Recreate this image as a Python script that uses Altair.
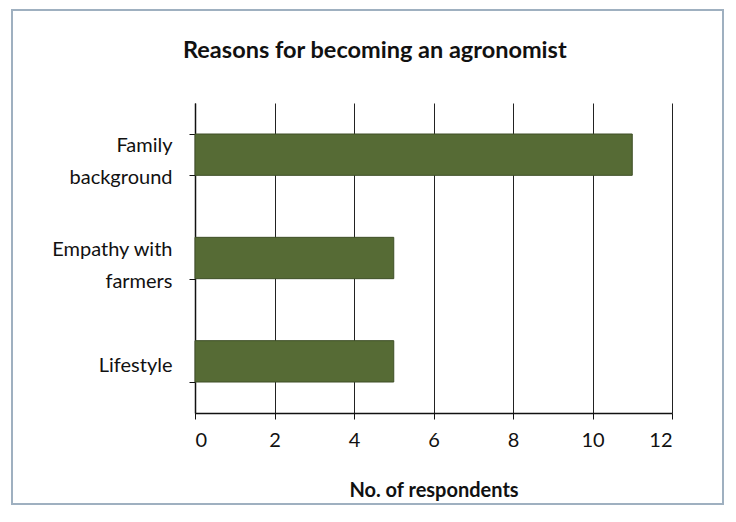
import altair as alt
import pandas as pd

reasons = ["Family\nbackground", "Empathy with\nfarmers", "Lifestyle"]
respondents = [11, 5, 5]
x_ticks = [0, 2, 4, 6, 8, 10, 12]

df = pd.DataFrame({"reason": reasons, "count": respondents})
frame_df = pd.DataFrame({"frame": [0]})

FONT = "Lato"
INK = "#111111"

bars = alt.Chart(df).mark_bar(color="#566b35", stroke="#3e4f26", strokeWidth=1).encode(
    x=alt.X(
        "count:Q",
        scale=alt.Scale(domain=[0, 12], nice=False),
        axis=alt.Axis(
            values=x_ticks, title="No. of respondents", grid=True,
            gridColor="#222222", gridWidth=1, domainColor=INK, domainWidth=1.5,
            tickColor=INK, tickSize=6, labelPadding=11, labelFontSize=20,
            titleFontSize=20, titleFontWeight="bold", titlePadding=30,
            labelFont=FONT, titleFont=FONT, labelColor=INK, titleColor=INK,
        ),
    ),
    y=alt.Y(
        "reason:N", sort=reasons,
        scale=alt.Scale(paddingInner=0.6, paddingOuter=0.3),
        axis=alt.Axis(
            title=None, labelExpr="split(datum.label, '\\n')", tickBand="extent",
            domainColor=INK, domainWidth=1.5, tickColor=INK, tickSize=6,
            labelPadding=17, labelFontSize=20, labelFont=FONT, labelColor=INK,
            labelLineHeight=32, grid=False,
            labelOffset={"condition": {"test": "indexof(datum.label, '\\n') >= 0", "value": -9}, "value": 4},
        ),
    ),
)

frame = alt.Chart(frame_df).mark_rect(fill="transparent", stroke="#9fb0c0", strokeWidth=2).encode(
    x=alt.value(-183), x2=alt.value(528), y=alt.value(-93), y2=alt.value(401)
)

chart = alt.layer(frame, bars).properties(
    width=477, height=310,
    title=alt.Title("Reasons for becoming an agronomist", anchor="start", dx=172, offset=-53,
                    fontSize=23.5, font=FONT, fontWeight="bold", color=INK),
    autosize=alt.AutoSizeParams(type="none"),
    padding={"left": 187, "top": 95, "right": 52, "bottom": 97},
).configure_view(strokeWidth=0)

chart.save("out.html", embed_options={"renderer": "svg", "actions": False})
